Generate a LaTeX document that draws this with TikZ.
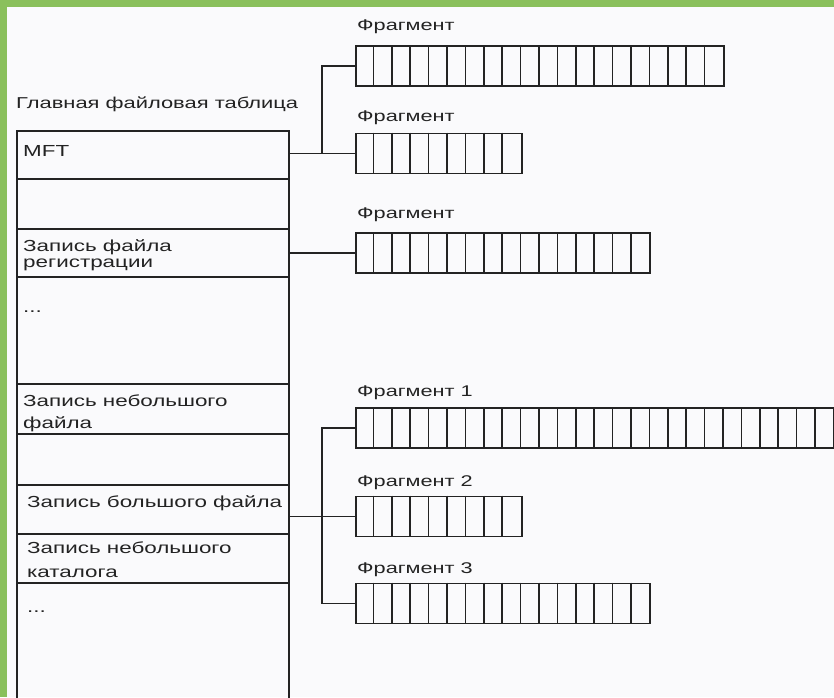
\documentclass[tikz,border=0pt]{standalone}
\usepackage{fontspec}
\setmainfont{Liberation Sans}
\usepackage{graphicx}
\usetikzlibrary{calc}
\definecolor{bggreen}{RGB}{138,192,92}
\definecolor{paper}{RGB}{250,250,252}
\definecolor{ink}{RGB}{35,35,35}
\newcommand{\wtxt}[1]{\scalebox{1.4}[1]{#1}}
\newcommand{\wtitle}[1]{\scalebox{1.46}[1.05]{#1}}
\begin{document}
\begin{tikzpicture}[x=1pt,y=-1pt,
  tabtext/.style={anchor=base west, inner sep=0pt, font=\fontsize{16}{16}\selectfont, text=ink},
  titletext/.style={anchor=base west, inner sep=0pt, font=\fontsize{15}{15}\selectfont, text=ink},
  fraglabel/.style={anchor=base west, inner sep=0pt, font=\fontsize{15.5}{15.5}\selectfont, text=ink},
  tabrow/.style={draw=ink, line width=1.7pt, anchor=north west, inner sep=0pt, minimum width=272pt},
  fragbox/.style={draw=ink, line width=1.9pt, anchor=west, inner sep=0pt, minimum height=40pt},
  cell/.style={draw=ink, line width=1.5pt},
  conn/.style={draw=ink, line width=1.4pt}]
\useasboundingbox (0,0) rectangle (834,697);
\begin{scope}
\clip (0,0) rectangle (834,697);
\fill[bggreen] (0,0) rectangle (834,697);
\fill[paper] (7,7) rectangle (834,697);

% main file table
\node[tabrow, minimum height=48pt]  (r1) at (16,130) {};
\node[tabrow, minimum height=50pt]  (r2) at (16,178) {};
\node[tabrow, minimum height=48pt]  (r3) at (16,228) {};
\node[tabrow, minimum height=107pt] (r4) at (16,276) {};
\node[tabrow, minimum height=50pt]  (r5) at (16,383) {};
\node[tabrow, minimum height=51pt]  (r6) at (16,433) {};
\node[tabrow, minimum height=49pt]  (r7) at (16,484) {};
\node[tabrow, minimum height=49pt]  (r8) at (16,533) {};
\node[tabrow, minimum height=140pt] (r9) at (16,582) {};

\node[titletext] (title) at (16,108) {\wtitle{Главная файловая таблица}};
\node[tabtext] (tmft)  at (23,156) {\wtxt{MFT}};
\node[tabtext] (tlog1) at (23,251) {\wtxt{Запись файла}};
\node[tabtext] (tlog2) at (23,267) {\wtxt{регистрации}};
\node[tabtext] (tdot1) at (23,312) {\wtxt{...}};
\node[tabtext] (tsm1)  at (23,406) {\wtxt{Запись небольшого}};
\node[tabtext] (tsm2)  at (23,428) {\wtxt{файла}};
\node[tabtext] (tbig)  at (27,507) {\wtxt{Запись большого файла}};
\node[tabtext] (tdir1) at (27,553) {\wtxt{Запись небольшого}};
\node[tabtext] (tdir2) at (27,577) {\wtxt{каталога}};
\node[tabtext] (tdot2) at (27,612) {\wtxt{...}};

% fragments
\node[fragbox, minimum width=368pt]   (f1) at (355,66) {};
\node[fragbox, minimum width=165.6pt] (f2) at (355,153.5) {};
\node[fragbox, minimum width=294.4pt] (f3) at (355,253) {};
\node[fragbox, minimum width=478.4pt] (g1) at (355,428) {};
\node[fragbox, minimum width=165.6pt] (g2) at (355,516.5) {};
\node[fragbox, minimum width=294.4pt] (g3) at (355,603.5) {};

\foreach \nm/\k in {f1/19,f2/8,f3/15,g1/25,g2/8,g3/15}{
  \foreach \i in {1,...,\k}{
    \draw[cell] ($(\nm.north west)+(\i*18.4,0)$) -- ($(\nm.south west)+(\i*18.4,0)$);
  }
}

\node[fraglabel] (lf1) at (357,30)  {\wtxt{Фрагмент}};
\node[fraglabel] (lf2) at (357,121) {\wtxt{Фрагмент}};
\node[fraglabel] (lf3) at (357,218) {\wtxt{Фрагмент}};
\node[fraglabel] (lg1) at (357,396) {\wtxt{Фрагмент 1}};
\node[fraglabel] (lg2) at (357,486) {\wtxt{Фрагмент 2}};
\node[fraglabel] (lg3) at (357,573) {\wtxt{Фрагмент 3}};

% connectors
\coordinate (ja) at (322,153.5);
\coordinate (jb) at (322,516.5);
\draw[conn] (f2.west -| r1.east) -- (f2.west);
\draw[conn] (f1.west) -| (ja);
\draw[conn] (f3.west -| r3.east) -- (f3.west);
\draw[conn] (g2.west -| r7.east) -- (g2.west);
\draw[conn] (g1.west) -| (jb) |- (g3.west);
\end{scope}
\end{tikzpicture}
\end{document}
